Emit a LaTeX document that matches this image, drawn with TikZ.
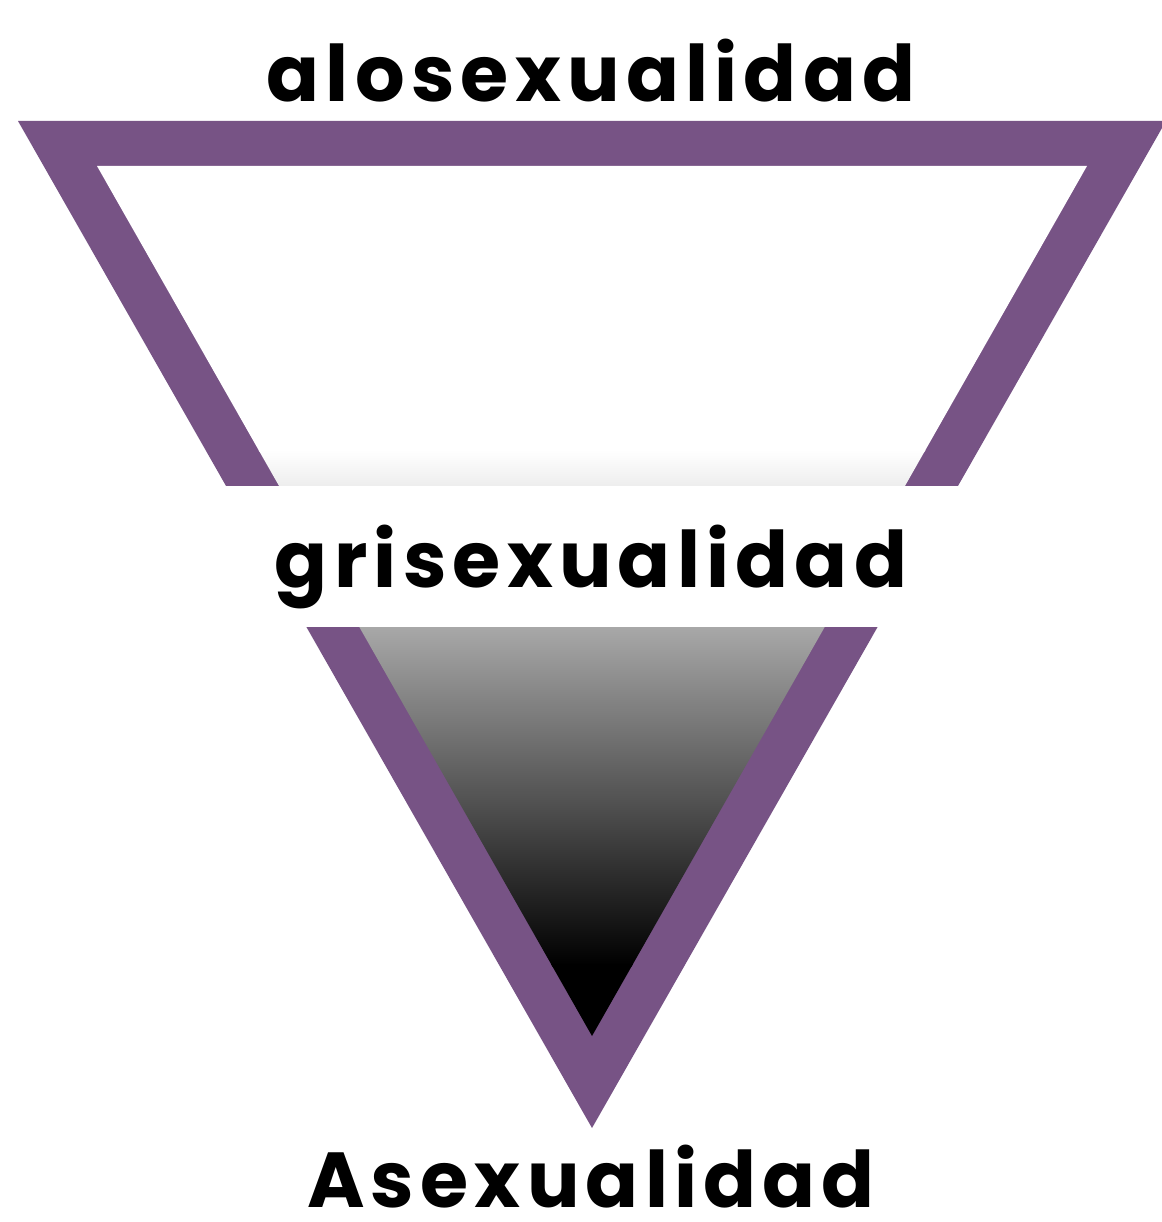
\documentclass[tikz,border=0pt]{standalone}
\usepackage{fontspec}
\setmainfont{Poppins}[LetterSpace=8]
\usepackage{xcolor}
\definecolor{acefill}{HTML}{775385}
\tikzset{
  frame/.style   ={fill=acefill, draw=none},
  band/.style    ={fill=white, draw=none},
  termtext/.style={font=\fontsize{78}{78}\selectfont\bfseries, anchor=base,
                   inner sep=0pt, text=black},
}

\begin{document}
\begin{tikzpicture}[x=1pt, y=-1pt]
    \fill[white] (0,0) rectangle (1161,1222);
    \useasboundingbox (0,0) rectangle (1161,1222);
    \coordinate (outl) at (18,121);
    \coordinate (outr) at (1166,121);
    \coordinate (outa) at (592,1128);
    \coordinate (innl) at (97,166);
    \coordinate (innr) at (1087,166);
    \coordinate (inna) at (592,1036);
    \fill[frame] (outl) -- (outr) -- (outa) -- cycle;
    \begin{scope}
      \clip (innl) -- (innr) -- (inna) -- cycle;
      \fill[white] (0,160) rectangle (1161,452);
      \shade[top color=white, bottom color=black] (0,450) rectangle (1161,966);
      \fill[black] (0,964) rectangle (1161,1050);
    \end{scope}
    \fill[band] (0,486) rectangle (1161,627);
    \node[termtext] (alo) at (591,102) {alosexualidad};
    \node[termtext] (gris) at (591,587) {grisexualidad};
    \node[termtext, text depth=0pt] (ace) at (591,1207) {Asexualidad};
\end{tikzpicture}
\end{document}
